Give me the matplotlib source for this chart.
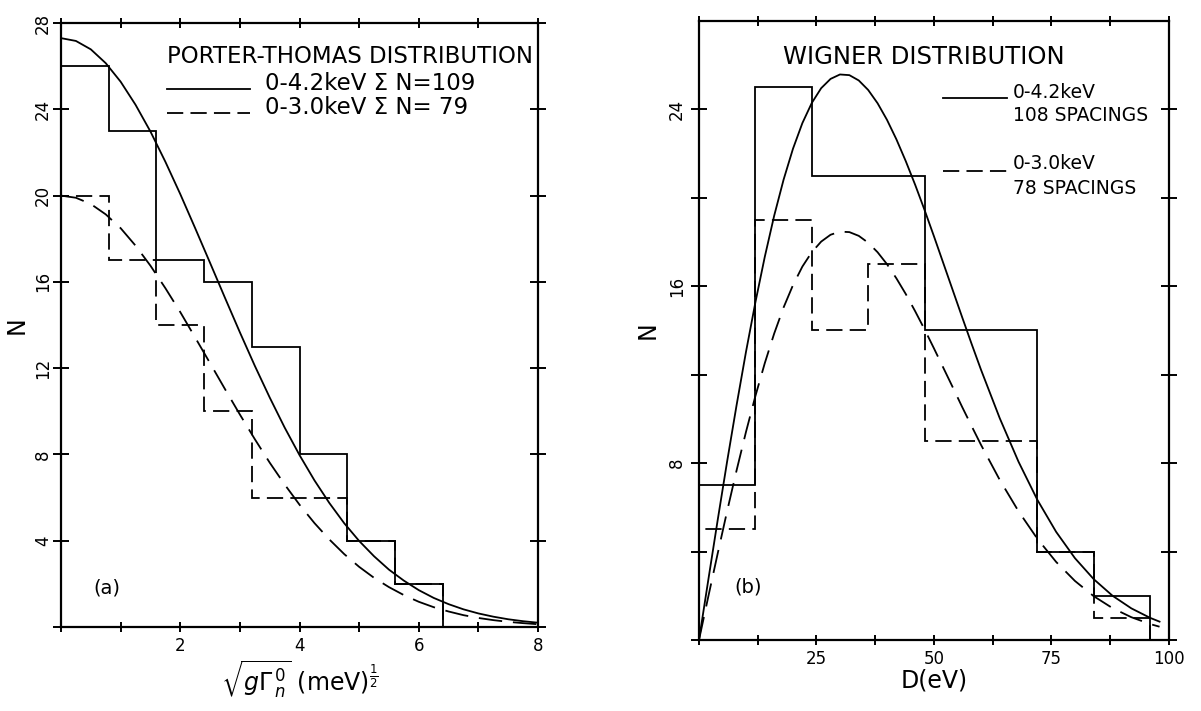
import numpy as np
import matplotlib
matplotlib.use('Agg')
import matplotlib.pyplot as plt

plt.rcParams['font.family'] = ['DejaVu Sans']
plt.rcParams['mathtext.fontset'] = 'dejavusans'

# (a) Porter-Thomas: histogram of sqrt(g Gamma_n^0), bins of 0.8
pt_edges = [0.0, 0.8, 1.6, 2.4, 3.2, 4.0, 4.8, 5.6, 6.4]
pt_all = [26, 23, 17, 16, 13, 8, 4, 2]      # 0-4.2 keV, sum 109
pt_low = [20, 17, 14, 10, 6, 6, 4, 2]       # 0-3.0 keV, sum 79
# fitted curves
pt_x = [0, 0.25, 0.5, 0.75, 1.0, 1.25, 1.5, 1.75, 2.0, 2.25, 2.5, 2.75, 3.0, 3.25,
        3.5, 3.75, 4.0, 4.25, 4.5, 4.75, 5.0, 5.25, 5.5, 5.75, 6.0, 6.25, 6.5,
        6.75, 7.0, 7.25, 7.5, 7.75, 8.0]
pt_fit_all = [27.3, 27.17, 26.78, 26.14, 25.28, 24.21, 22.97, 21.57, 20.07, 18.49,
              16.88, 15.26, 13.66, 12.11, 10.64, 9.25, 7.97, 6.80, 5.75, 4.81,
              3.99, 3.28, 2.66, 2.15, 1.71, 1.35, 1.06, 0.82, 0.63, 0.48, 0.36,
              0.27, 0.20]
pt_fit_low = [20.0, 19.90, 19.61, 19.13, 18.49, 17.68, 16.75, 15.71, 14.60, 13.42,
              12.23, 11.03, 9.85, 8.71, 7.62, 6.61, 5.67, 4.82, 4.06, 3.38,
              2.79, 2.28, 1.85, 1.48, 1.17, 0.92, 0.72, 0.55, 0.42, 0.32, 0.24,
              0.18, 0.13]

# (b) Wigner: level spacings D (eV), bins of 12 eV
wg_edges = [0, 12, 24, 36, 48, 60, 72, 84, 96]
wg_all = [7, 25, 21, 21, 14, 14, 4, 2]      # 108 spacings
wg_low = [5, 19, 14, 17, 9, 9, 4, 1]        # 78 spacings
wg_d = [0, 2, 4, 6, 8, 10, 12, 14, 16, 18, 20, 22, 24, 26, 28, 30, 32, 34, 36, 38,
        40, 42, 44, 46, 48, 50, 52, 54, 56, 58, 60, 64, 68, 72, 76, 80, 84, 88,
        92, 96, 98]
wg_fit_all = [0, 2.74, 5.45, 8.09, 10.62, 13.03, 15.27, 17.33, 19.19, 20.82,
              22.22, 23.38, 24.29, 24.96, 25.38, 25.58, 25.55, 25.31, 24.88, 24.28,
              23.53, 22.65, 21.66, 20.59, 19.45, 18.26, 17.04, 15.82, 14.60, 13.40,
              12.23, 10.03, 8.06, 6.34, 4.89, 3.70, 2.75, 2.00, 1.43, 1.00, 0.83]
wg_fit_low = [0, 1.98, 3.93, 5.84, 7.67, 9.41, 11.03, 12.52, 13.86, 15.04,
              16.05, 16.89, 17.54, 18.02, 18.33, 18.47, 18.45, 18.28, 17.97, 17.54,
              17.00, 16.36, 15.65, 14.87, 14.05, 13.19, 12.31, 11.43, 10.54, 9.68,
              8.83, 7.24, 5.82, 4.58, 3.53, 2.67, 1.98, 1.44, 1.03, 0.72, 0.60]

DASH = (0, (9, 4))
CDASH = (0, (13, 6))
LW = 1.3

fig = plt.figure(figsize=(12.01, 7.11), dpi=100)
ax1 = fig.add_axes([0.0508, 0.1181, 0.3972, 0.8495])
ax2 = fig.add_axes([0.5820, 0.0999, 0.3913, 0.8706])

for ax in (ax1, ax2):
    for s in ax.spines.values():
        s.set_linewidth(1.6)
    ax.tick_params(which='both', direction='inout', top=True, right=True,
                   width=1.4, labelsize=12, pad=4)
    ax.tick_params(axis='x', which='both', length=7)
    ax.tick_params(axis='y', which='both', length=11, pad=1)

# ---- panel (a)
ax1.stairs(pt_all, pt_edges, color='k', lw=LW)
ax1.stairs(pt_low, pt_edges, color='k', lw=LW, linestyle=DASH)
ax1.plot(pt_x, pt_fit_all, color='k', lw=LW)
ax1.plot(pt_x, pt_fit_low, color='k', lw=LW, linestyle=CDASH)
ax1.set_xlim(0, 8)
ax1.set_ylim(0, 28)
ax1.set_xticks([2, 4, 6, 8])
ax1.set_xticks([0, 1, 3, 5, 7], minor=True)
ax1.set_yticks([4, 8, 12, 16, 20, 24, 28])
ax1.set_yticks([0], minor=True)
for lab in ax1.get_yticklabels():
    lab.set_rotation(90)
    lab.set_va('center')
ax1.set_ylabel('N', fontsize=17, labelpad=4)
ax1.set_xlabel(r'$\sqrt{g\Gamma^{\,0}_{\,n}}\ (\mathrm{meV})^{\frac{1}{2}}$', fontsize=17, labelpad=2)

ax1.text(0.222, 0.944, 'PORTER-THOMAS DISTRIBUTION', transform=ax1.transAxes,
         fontsize=16.5, va='center', ha='left')
ax1.plot([0.222, 0.396], [0.891, 0.891], transform=ax1.transAxes, color='k', lw=LW)
ax1.plot([0.222, 0.396], [0.851, 0.851], transform=ax1.transAxes, color='k', lw=LW,
         linestyle=DASH)
ax1.text(0.428, 0.900, '0-4.2keV Σ N=109', transform=ax1.transAxes,
         fontsize=16.5, va='center', ha='left')
ax1.text(0.428, 0.860, '0-3.0keV Σ N= 79', transform=ax1.transAxes,
         fontsize=16.5, va='center', ha='left')
ax1.text(0.096, 0.065, '(a)', transform=ax1.transAxes, fontsize=14,
         va='center', ha='center')

# ---- panel (b)
ax2.stairs(wg_all, wg_edges, color='k', lw=LW)
ax2.stairs(wg_low, wg_edges, color='k', lw=LW, linestyle=DASH)
ax2.plot(wg_d, wg_fit_all, color='k', lw=LW)
ax2.plot(wg_d, wg_fit_low, color='k', lw=LW, linestyle=CDASH)
ax2.set_xlim(0, 100)
ax2.set_ylim(0, 28)
ax2.set_xticks([25, 50, 75, 100])
ax2.set_xticks([0, 12.5, 37.5, 62.5, 87.5], minor=True)
ax2.set_yticks([8, 16, 24])
ax2.set_yticks([0, 4, 12, 20], minor=True)
for lab in ax2.get_yticklabels():
    lab.set_rotation(90)
    lab.set_va('center')
ax2.tick_params(axis='y', which='both', pad=4)
ax2.set_ylabel('N', fontsize=17, labelpad=6)
ax2.set_xlabel('D(eV)', fontsize=17, labelpad=0)

ax2.text(0.179, 0.942, 'WIGNER DISTRIBUTION', transform=ax2.transAxes,
         fontsize=17.5, va='center', ha='left')
ax2.plot([0.519, 0.655], [0.876, 0.876], transform=ax2.transAxes, color='k', lw=LW)
ax2.text(0.668, 0.885, '0-4.2keV', transform=ax2.transAxes, fontsize=13.5,
         va='center', ha='left')
ax2.text(0.668, 0.847, '108 SPACINGS', transform=ax2.transAxes, fontsize=13.5,
         va='center', ha='left')
ax2.plot([0.519, 0.655], [0.758, 0.758], transform=ax2.transAxes, color='k', lw=LW,
         linestyle=DASH)
ax2.text(0.668, 0.769, '0-3.0keV', transform=ax2.transAxes, fontsize=13.5,
         va='center', ha='left')
ax2.text(0.668, 0.730, '78 SPACINGS', transform=ax2.transAxes, fontsize=13.5,
         va='center', ha='left')
ax2.text(0.104, 0.086, '(b)', transform=ax2.transAxes, fontsize=14,
         va='center', ha='center')

fig.savefig('out.png', dpi=100)
